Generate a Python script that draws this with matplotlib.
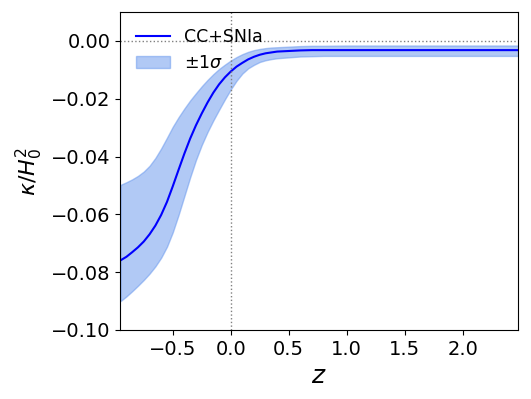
import matplotlib
matplotlib.use('Agg')
import matplotlib.pyplot as plt
import numpy as np

# values
z = [-0.95, -0.90, -0.85, -0.80, -0.75, -0.70, -0.65, -0.60, -0.55, -0.50,
     -0.45, -0.40, -0.35, -0.30, -0.25, -0.20, -0.15, -0.10, -0.05, 0.0,
     0.05, 0.10, 0.15, 0.20, 0.25, 0.30, 0.35, 0.40, 0.50, 0.60,
     0.70, 0.80, 1.0, 1.5, 2.0, 2.48]
kappa = [-0.0759, -0.0747, -0.0731, -0.0714, -0.0694, -0.0669, -0.0639, -0.0602, -0.0557, -0.0503,
         -0.0446, -0.0390, -0.0338, -0.0292, -0.0251, -0.0213, -0.0179, -0.0150, -0.0126, -0.0106,
         -0.0089, -0.0076, -0.0064, -0.0055, -0.0048, -0.0043, -0.0040, -0.0037, -0.0035, -0.0033,
         -0.0032, -0.0032, -0.0032, -0.0032, -0.0032, -0.0032]
upper = [-0.0498, -0.0489, -0.0479, -0.0467, -0.0452, -0.0432, -0.0405, -0.0372, -0.0335, -0.0297,
         -0.0264, -0.0234, -0.0206, -0.0181, -0.0157, -0.0135, -0.0115, -0.0097, -0.0082, -0.0068,
         -0.0056, -0.0046, -0.0038, -0.0032, -0.0028, -0.0025, -0.0023, -0.0022, -0.0020, -0.0018,
         -0.0017, -0.0017, -0.0016, -0.0016, -0.0016, -0.0016]
lower = [-0.0900, -0.0884, -0.0866, -0.0847, -0.0827, -0.0805, -0.0780, -0.0750, -0.0712, -0.0662,
         -0.0602, -0.0537, -0.0472, -0.0412, -0.0360, -0.0315, -0.0275, -0.0238, -0.0202, -0.0168,
         -0.0138, -0.0113, -0.0095, -0.0083, -0.0073, -0.0067, -0.0063, -0.0060, -0.0057, -0.0054,
         -0.0053, -0.0052, -0.0052, -0.0052, -0.0052, -0.0052]

fig = plt.figure(figsize=(5.31, 3.99), dpi=100)
ax = fig.add_axes([0.226, 0.173, 0.7495, 0.797])

ax.fill_between(z, lower, upper, color='cornflowerblue', alpha=0.5, label=r'$\pm 1\sigma$')
ax.plot(z, kappa, color='blue', lw=1.5, label='CC+SNIa')
ax.axhline(0, color='gray', ls=':', lw=1)
ax.axvline(0, color='gray', ls=':', lw=1)

ax.set_xlim(-0.955, 2.477)
ax.set_ylim(-0.10, 0.01)
ax.set_xticks([-0.5, 0.0, 0.5, 1.0, 1.5, 2.0])
ax.set_yticks([0.0, -0.02, -0.04, -0.06, -0.08, -0.10])
ax.tick_params(labelsize=14)
ax.set_xlabel('$z$', fontsize=18)
ax.set_ylabel(r'$\kappa/H_0^2$', fontsize=16)

h, l = ax.get_legend_handles_labels()
ax.legend(h[::-1], l[::-1], loc='upper left', frameon=False, fontsize=12.5)

fig.savefig('out.png', dpi=100)
